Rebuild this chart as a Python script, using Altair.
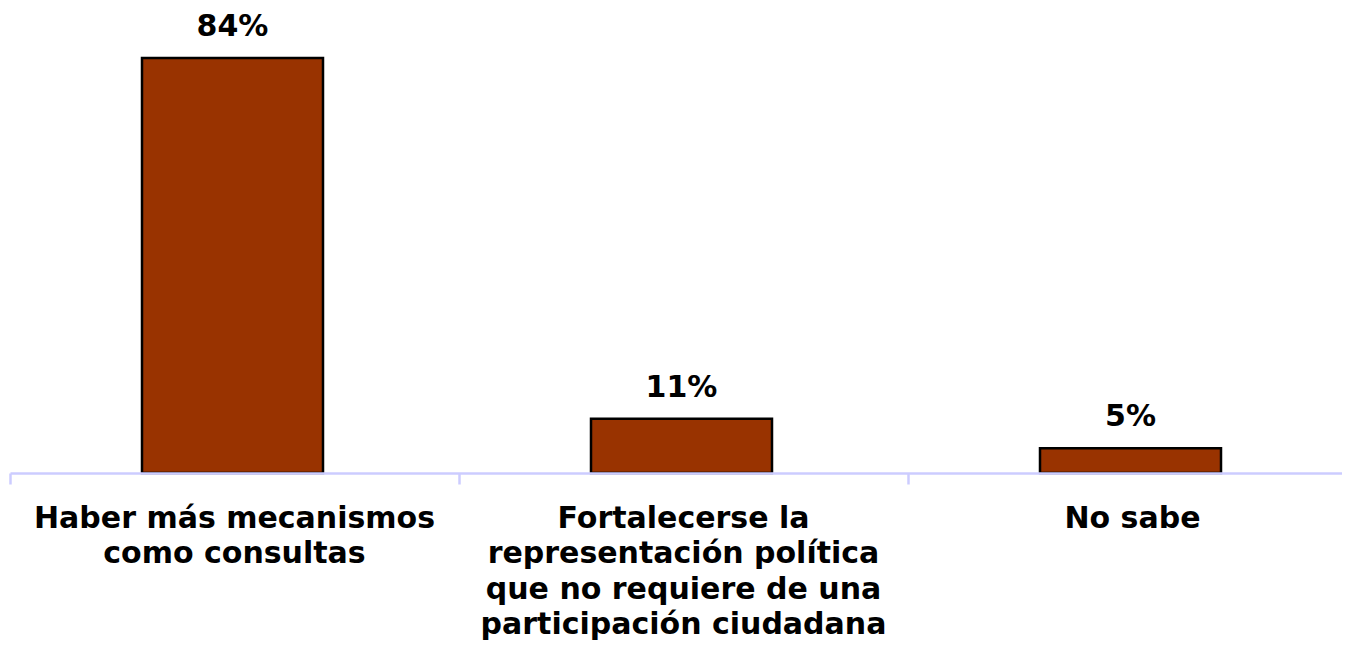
import altair as alt
import pandas as pd

categories = [
    "Haber más mecanismos|como consultas",
    "Fortalecerse la|representación política|que no requiere de una|participación ciudadana",
    "No sabe",
]
values = [84, 11, 5]
labels = ["84%", "11%", "5%"]

df = pd.DataFrame({"cat": categories, "val": values, "lab": labels})

FONT = "DejaVu Sans"

x = alt.X(
    "cat:N",
    sort=categories,
    scale=alt.Scale(paddingInner=0, paddingOuter=0, range=[0, 1347]),
    axis=alt.Axis(
        title=None,
        labelAngle=0,
        labelExpr="split(datum.label, '|')",
        labelFont=FONT,
        labelFontSize=30,
        labelFontWeight="bold",
        labelColor="black",
        labelLineHeight=35.5,
        labelPadding=19,
        labelLimit=0,
        domainColor="#CCCCFF",
        domainWidth=2.5,
        tickColor="#CCCCFF",
        tickWidth=2.5,
        tickSize=11,
        bandPosition=0,
        zindex=1,
    ),
)
y = alt.Y("val:Q", scale=alt.Scale(domain=[0, 93.7], nice=False), axis=None)

bars = alt.Chart(df).mark_bar(
    size=181, color="#993300", stroke="black", strokeWidth=2.5, xOffset=-2
).encode(x=x, y=y)

text = alt.Chart(df).mark_text(
    font=FONT, fontSize=30, fontWeight="bold", color="black",
    baseline="alphabetic", dy=-22, xOffset=-2
).encode(x=alt.X("cat:N", sort=categories), y=y, text="lab:N")

chart = (
    alt.layer(bars, text)
    .properties(
        width=1332,
        height=463,
        padding={"left": 2, "top": 2, "right": 0, "bottom": 168},
        autosize=alt.AutoSizeParams(type="none"),
    )
    .configure_view(stroke=None)
)

chart.save("out.html", embed_options={"renderer": "svg", "actions": False})
